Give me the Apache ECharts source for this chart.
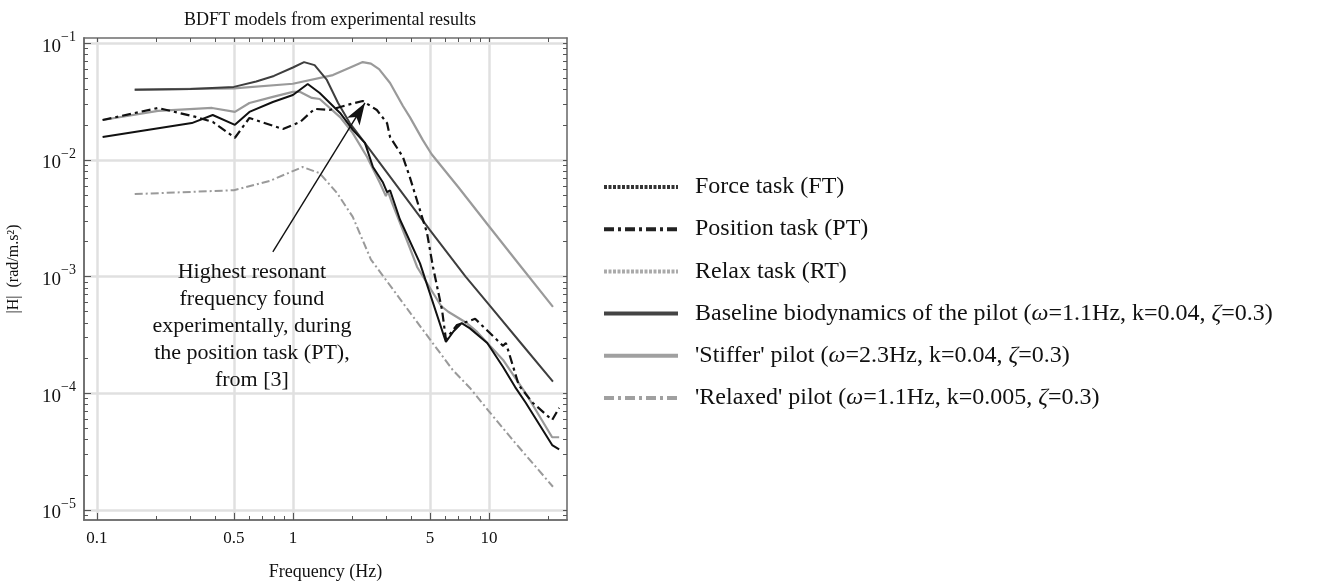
<!DOCTYPE html>
<html>
<head>
<meta charset="utf-8">
<title>BDFT models</title>
<script src="https://cdn.jsdelivr.net/npm/echarts@6/dist/echarts.min.js"></script>
<style>
html,body{margin:0;padding:0;background:#fff;}
#main{width:1319px;height:583px;}
</style>
</head>
<body>
<div id="main"></div>
<script>
// values: frequency (Hz) / |H| (rad/m.s2)
var ftFreq = [0.107, 0.305, 0.39, 0.506, 0.6, 0.79, 1.0, 1.19, 1.37, 1.74, 2.02, 2.33, 2.56, 2.88, 3.02, 3.13, 3.51, 4.45, 6.03, 6.6, 7.26, 8.0, 9.8, 11.8, 13.6, 15.4, 21.0, 22.8];
var ftMag  = [0.0157, 0.0207, 0.0243, 0.020, 0.0258, 0.0314, 0.036, 0.0448, 0.0375, 0.0253, 0.0181, 0.014, 0.0087, 0.0064, 0.0053, 0.0055, 0.0031, 0.0013, 2.75e-4, 3.4e-4, 4.0e-4, 3.6e-4, 2.7e-4, 1.68e-4, 1.13e-4, 8.3e-5, 3.6e-5, 3.3e-5];

var ptFreq = [0.107, 0.205, 0.316, 0.39, 0.506, 0.6, 0.89, 1.09, 1.29, 1.54, 1.89, 2.27, 2.68, 3.02, 3.13, 3.64, 3.95, 4.45, 4.83, 5.18, 5.76, 6.03, 6.87, 7.7, 8.5, 11.8, 12.2, 14.2, 16.7, 21.0, 22.8];
var ptMag  = [0.022, 0.0279, 0.0235, 0.0212, 0.0155, 0.0229, 0.0184, 0.0212, 0.0274, 0.0268, 0.0296, 0.032, 0.0268, 0.0207, 0.0157, 0.0106, 0.0071, 0.0037, 0.00237, 0.00121, 5.2e-4, 2.9e-4, 3.85e-4, 4.1e-4, 4.35e-4, 2.55e-4, 2.7e-4, 1.17e-4, 8.3e-5, 5.9e-5, 7.5e-5];

var rtFreq = [0.107, 0.205, 0.387, 0.506, 0.6, 0.79, 1.0, 1.09, 1.25, 1.37, 1.74, 2.02, 2.39, 2.78, 2.98, 3.05, 3.2, 3.81, 4.3, 5.7, 6.2, 7.7, 8.7, 11.8, 15.4, 21.0, 22.8];
var rtMag  = [0.022, 0.0263, 0.0279, 0.0258, 0.0308, 0.0347, 0.0383, 0.0383, 0.034, 0.0333, 0.0233, 0.017, 0.0106, 0.00635, 0.0049, 0.0054, 0.0043, 0.00206, 0.00121, 5.6e-4, 5.0e-4, 4.0e-4, 3.36e-4, 1.93e-4, 1.0e-4, 4.2e-5, 4.2e-5];

var baseFreq = [0.156, 0.3, 0.5, 0.65, 0.8, 1.0, 1.14, 1.29, 1.49, 1.70, 1.95, 2.27, 3.0, 5.0, 7.6, 10, 15, 21.2];
var baseMag  = [0.040, 0.0405, 0.0423, 0.047, 0.0525, 0.062, 0.069, 0.065, 0.0485, 0.0308, 0.0207, 0.0148, 0.0079, 0.0025, 0.001, 5.75e-4, 2.53e-4, 1.26e-4];

var stiffFreq = [0.156, 0.5, 1.0, 1.6, 2.0, 2.27, 2.5, 2.75, 3.13, 3.64, 3.95, 4.6, 5.1, 7, 10, 14, 21.2];
var stiffMag  = [0.040, 0.041, 0.045, 0.0534, 0.063, 0.069, 0.067, 0.060, 0.0457, 0.029, 0.0233, 0.0148, 0.0112, 0.0058, 0.0027, 0.00132, 5.5e-4];

var relaxFreq = [0.156, 0.5, 0.76, 1.12, 1.37, 1.68, 2.02, 2.5, 4.0, 6.54, 8.0, 10, 13.6, 21.2];
var relaxMag  = [5.1e-3, 5.5e-3, 6.6e-3, 8.7e-3, 7.7e-3, 5.2e-3, 3.25e-3, 1.4e-3, 4.8e-4, 1.58e-4, 1.11e-4, 7.0e-5, 3.76e-5, 1.58e-5];

var names = [
  'Force task (FT)',
  'Position task (PT)',
  'Relax task (RT)',
  'Baseline biodynamics of the pilot (ω=1.1Hz, k=0.04, ζ=0.3)',
  "'Stiffer' pilot (ω=2.3Hz, k=0.04, ζ=0.3)",
  "'Relaxed' pilot (ω=1.1Hz, k=0.005, ζ=0.3)"
];

// tick labels
var xMajor = [0.1, 0.5, 1, 5, 10];
var xMinor = [0.2, 0.3, 0.4, 0.6, 0.7, 0.8, 0.9, 2, 3, 4, 6, 7, 8, 9, 20];
var yMajor = [1e-5, 1e-4, 1e-3, 1e-2, 1e-1];
var yMinor = [];
[-6, -5, -4, -3, -2, -1].forEach(function (e) {
  for (var m = 2; m <= 9; m++) yMinor.push(+(m * Math.pow(10, e)).toPrecision(2));
});

var annText = 'Highest resonant\nfrequency found\nexperimentally, during\nthe position task (PT),\nfrom [3]';

var FONT = "'Liberation Serif', 'DejaVu Serif', serif";
var xMin = 0.086, xMax = 25, yMin = 8.2e-6, yMax = 0.111;

function pairs(f, h) {
  return f.map(function (v, i) { return [v, h[i]]; });
}

var myChart = echarts.init(document.getElementById('main'));

function xAx(pos, ticks, len, withLabels) {
  return {
    type: 'log', position: pos, min: xMin, max: xMax, gridIndex: 0,
    axisLine: { show: true, onZero: false, lineStyle: { color: '#6e6e6e', width: 1.6 } },
    axisTick: { show: true, inside: true, length: len, customValues: ticks, lineStyle: { color: '#555', width: 1 } },
    axisLabel: withLabels ? {
      show: true, customValues: xMajor, margin: 10, color: '#111', fontFamily: FONT, fontSize: 17,
      formatter: function (v) { return String(+(+v).toPrecision(3)); }
    } : { show: false },
    splitLine: withLabels ? { show: true, lineStyle: { color: '#e0e0e0', width: 2.5 } } : { show: false },
    name: withLabels ? 'Frequency (Hz)' : '',
    nameLocation: 'middle', nameGap: 43,
    nameTextStyle: { fontFamily: FONT, fontSize: 18, color: '#111' }
  };
}

function yAx(pos, ticks, len, withLabels) {
  return {
    type: 'log', position: pos, min: yMin, max: yMax, gridIndex: 0,
    axisLine: { show: true, onZero: false, lineStyle: { color: '#6e6e6e', width: 1.6 } },
    axisTick: { show: true, inside: true, length: len, customValues: ticks, lineStyle: { color: '#555', width: 1 } },
    axisLabel: withLabels ? {
      show: true, customValues: yMajor, margin: 8, color: '#111', fontFamily: FONT,
      formatter: function (v) {
        var e = Math.round(Math.log10(v));
        return '{b|10}{s|\u2212' + (-e) + '}';
      },
      rich: {
        b: { fontFamily: FONT, fontSize: 19, color: '#111', lineHeight: 26, verticalAlign: 'bottom' },
        s: { fontFamily: FONT, fontSize: 14, color: '#111', lineHeight: 15, verticalAlign: 'top' }
      }
    } : { show: false },
    splitLine: withLabels ? { show: true, lineStyle: { color: '#e0e0e0', width: 2.5 } } : { show: false },
    name: withLabels ? '|H|  (rad/m.s\u00b2)' : '',
    nameLocation: 'middle', nameGap: 62,
    nameTextStyle: { fontFamily: FONT, fontSize: 16, color: '#111', padding: [0, 0, 0, 20] }
  };
}

var option = {
  animation: false,
  backgroundColor: '#fff',
  title: {
    text: 'BDFT models from experimental results',
    left: 325, top: 6, textAlign: 'center',
    textStyle: { fontFamily: FONT, fontSize: 18, fontWeight: 'normal', color: '#111' }
  },
  grid: { left: 84, right: 752, top: 38, bottom: 63, outerBoundsMode: 'none' },
  xAxis: [
    xAx('bottom', xMajor, 7, true),
    xAx('bottom', xMinor, 4, false),
    xAx('top', xMajor.concat(xMinor), 4, false)
  ],
  yAxis: [
    yAx('left', yMajor, 7, true),
    yAx('left', yMinor, 4, false),
    yAx('right', yMajor.concat(yMinor), 4, false)
  ],
  legend: {
    orient: 'vertical', left: 602, top: 175, padding: 0,
    itemWidth: 74, itemHeight: 12, itemGap: 18.2,
    itemStyle: { color: 'rgba(0,0,0,0)', borderWidth: 0, opacity: 0 },
    textStyle: {
      fontFamily: FONT, fontSize: 24, color: '#111', padding: [0, 0, 0, 12],
      rich: {
        n: { fontFamily: FONT, fontSize: 24, lineHeight: 25, color: '#111' },
        i: { fontFamily: FONT, fontSize: 24, lineHeight: 25, color: '#111', fontStyle: 'italic' }
      }
    },
    formatter: function (name) {
      return '{n|' + name.replace(/([ωζ])/g, '}{i|$1}{n|') + '}';
    },
    data: [
      { name: names[0], lineStyle: { color: '#333', width: 4, type: [3, 1.5] } },
      { name: names[1], lineStyle: { color: '#222', width: 4, type: [10, 4, 3, 4] } },
      { name: names[2], lineStyle: { color: '#aaa', width: 4, type: [3, 1.5] } },
      { name: names[3], lineStyle: { color: '#444', width: 4, type: 'solid' } },
      { name: names[4], lineStyle: { color: '#a0a0a0', width: 4, type: 'solid' } },
      { name: names[5], lineStyle: { color: '#a0a0a0', width: 4, type: [10, 4, 3, 4] } }
    ]
  },
  series: [
    {
      name: names[4], type: 'line', symbol: 'none', z: 2,
      lineStyle: { color: '#9a9a9a', width: 2.2 },
      data: pairs(stiffFreq, stiffMag)
    },
    {
      name: names[5], type: 'line', symbol: 'none', z: 2,
      lineStyle: { color: '#9a9a9a', width: 2, type: [8, 3, 2, 3] },
      data: pairs(relaxFreq, relaxMag)
    },
    {
      name: names[3], type: 'line', symbol: 'none', z: 3,
      lineStyle: { color: '#3e3e3e', width: 2 },
      data: pairs(baseFreq, baseMag)
    },
    {
      name: names[2], type: 'line', symbol: 'none', z: 3,
      lineStyle: { color: '#9a9a9a', width: 2.2 },
      data: pairs(rtFreq, rtMag)
    },
    {
      name: names[0], type: 'line', symbol: 'none', z: 4,
      lineStyle: { color: '#111', width: 2 },
      data: pairs(ftFreq, ftMag)
    },
    {
      name: names[1], type: 'line', symbol: 'none', z: 5,
      lineStyle: { color: '#111', width: 2.2, type: [9, 4, 3, 4] },
      data: pairs(ptFreq, ptMag),
      markLine: {
        silent: true, animation: false,
        symbol: ['none', 'arrow'],
        label: { show: false },
        lineStyle: { color: '#111', width: 1.4, type: 'solid' },
        data: [[
          { coord: [0.79, 1.63e-3], symbol: 'none' },
          { coord: [2.33, 0.0308], symbol: 'arrow', symbolSize: [11, 22] }
        ]]
      },
      markPoint: {
        silent: true, animation: false,
        symbol: 'circle', symbolSize: 0,
        label: {
          show: true, position: 'inside', color: '#111',
          fontFamily: FONT, fontSize: 22, lineHeight: 27, align: 'center',
          formatter: annText
        },
        data: [{ coord: [0.618, 3.78e-4] }]
      }
    }
  ]
};

myChart.setOption(option);
</script>
</body>
</html>
